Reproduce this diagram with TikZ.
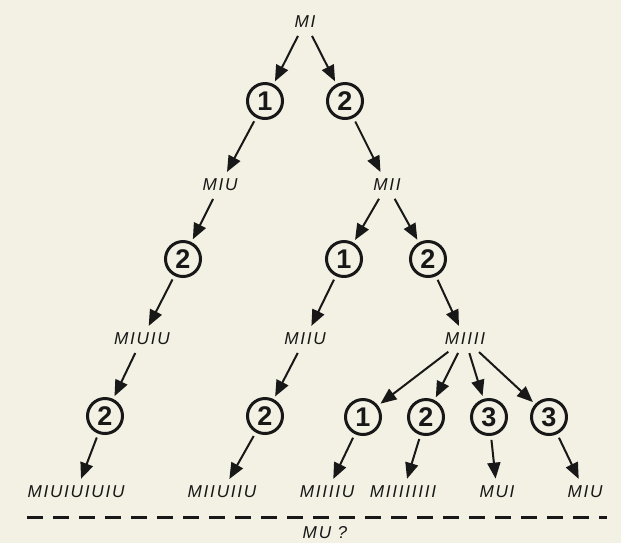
\documentclass[tikz,border=0pt]{standalone}
\usepackage{fontspec}
\setmainfont{Liberation Sans}
\newfontfamily\wordfont[LetterSpace=10]{Liberation Sans}
\usetikzlibrary{arrows.meta}
\definecolor{paper}{RGB}{243,241,227}
\definecolor{ink}{RGB}{24,24,24}

\begin{document}
\begin{tikzpicture}[x=0.5pt, y=-0.5pt,
    word/.style={font=\wordfont\itshape\fontsize{8.6}{10}\selectfont, text=ink, inner sep=2pt},
    rule/.style={circle, draw=ink, line width=1.5pt, minimum size=17.5pt, inner sep=0pt,
                 font=\fontsize{13.5}{15}\selectfont\bfseries, text=ink},
    arr/.style={-{Triangle[length=8pt, width=6.5pt]}, line width=1pt, draw=ink,
                shorten <=2pt, shorten >=1.5pt},
    cut/.style={draw=ink, line width=1.5pt, dash pattern=on 8pt off 5pt}]
    \useasboundingbox (0,0) rectangle (621,543);
    \fill[paper] (0,0) rectangle (621,543);

    % Strings and rules, row by row
    \node[word] (mi) at (305,22) {MI};

    \node[rule] (r1a) at (265,101) {1};
    \node[rule] (r2a) at (345,101) {2};

    \node[word] (miu) at (220,185) {MIU};
    \node[word] (mii) at (387,185) {MII};

    \node[rule] (r2b) at (183,259) {2};
    \node[rule] (r1c) at (344,259) {1};
    \node[rule] (r2c) at (428,259) {2};

    \node[word] (miuiu) at (142,339) {MIUIU};
    \node[word] (miiu)  at (305,339) {MIIU};
    \node[word] (miiii) at (465,339) {MIIII};

    \node[rule] (r2d) at (105,416) {2};
    \node[rule] (r2e) at (265,416) {2};
    \node[rule] (r1f) at (363,417) {1};
    \node[rule] (r2f) at (426,417) {2};
    \node[rule] (r3f) at (489,417) {3};
    \node[rule] (r3g) at (549,417) {3};

    \node[word] (miuiuiuiu) at (76,492)  {MIUIUIUIU};
    \node[word] (miiuiiu)   at (222,492) {MIIUIIU};
    \node[word] (miiiiu)    at (327,492) {MIIIIU};
    \node[word] (miiiiiiii) at (403,492) {MIIIIIIII};
    \node[word] (mui)       at (497,492) {MUI};
    \node[word] (miuend)    at (585,492) {MIU};

    % Derivation arrows
    \draw[arr] (mi) -- (r1a);
    \draw[arr] (mi) -- (r2a);
    \draw[arr] (r1a) -- (miu);
    \draw[arr] (r2a) -- (mii);

    \draw[arr] (miu) -- (r2b);
    \draw[arr] (mii) -- (r1c);
    \draw[arr] (mii) -- (r2c);
    \draw[arr] (r2b) -- (miuiu);
    \draw[arr] (r1c) -- (miiu);
    \draw[arr] (r2c) -- (miiii);

    \draw[arr] (miuiu) -- (r2d);
    \draw[arr] (miiu) -- (r2e);
    \draw[arr] (miiii) -- (r1f);
    \draw[arr] (miiii) -- (r2f);
    \draw[arr] (miiii) -- (r3f);
    \draw[arr] (miiii) -- (r3g);

    \draw[arr] (r2d) -- (miuiuiuiu);
    \draw[arr] (r2e) -- (miiuiiu);
    \draw[arr] (r1f) -- (miiiiu);
    \draw[arr] (r2f) -- (miiiiiiii);
    \draw[arr] (r3f) -- (mui);
    \draw[arr] (r3g) -- (miuend);

    % Goal below the line
    \coordinate (cutl) at (27,517);
    \coordinate (cutr) at (607,517);
    \draw[cut] (cutl) -- (cutr);
    \node[word] (mu) at (325,533) {MU ?};
\end{tikzpicture}
\end{document}
